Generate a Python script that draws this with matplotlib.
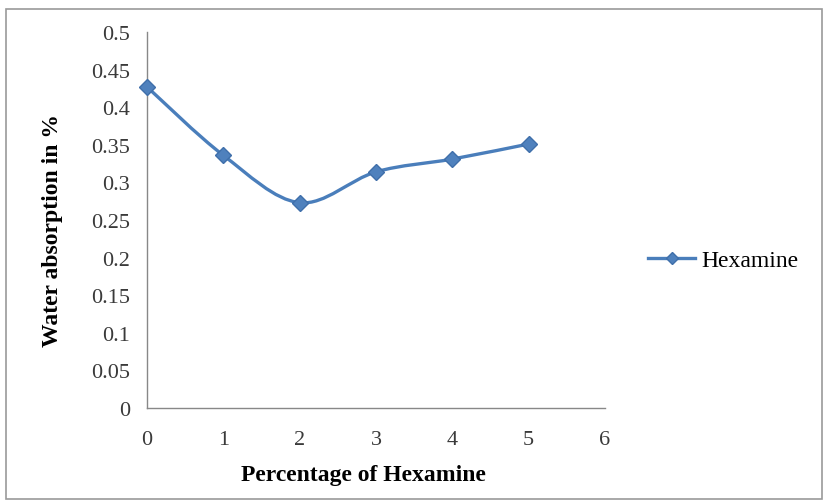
import numpy as np
import matplotlib.pyplot as plt
from matplotlib.path import Path
from matplotlib.patches import PathPatch, Rectangle
from matplotlib.lines import Line2D

# Data
hexamine_pct = [0, 1, 2, 3, 4, 5]
water_absorption = [0.427, 0.336, 0.273, 0.314, 0.331, 0.351]
y_ticks = [0, 0.05, 0.1, 0.15, 0.2, 0.25, 0.3, 0.35, 0.4, 0.45, 0.5]
y_tick_labels = ["0", "0.05", "0.1", "0.15", "0.2", "0.25", "0.3", "0.35", "0.4", "0.45", "0.5"]
x_ticks = [0, 1, 2, 3, 4, 5, 6]

plt.rcParams["font.family"] = ["Liberation Serif", "DejaVu Serif"]

blue = "#4A7EBB"
axis_grey = "#888888"


# Excel-like smoothed line: cubic Bezier segments through the data points
def smooth_path(x, y, t=1 / 6):
    x = np.asarray(x, float)
    y = np.asarray(y, float)
    n = len(x)
    verts = [(x[0], y[0])]
    codes = [Path.MOVETO]
    for i in range(n - 1):
        p0 = i - 1 if i > 0 else i
        p3 = i + 2 if i + 2 < n else i + 1
        c1 = (x[i] + (x[i + 1] - x[p0]) * t, y[i] + (y[i + 1] - y[p0]) * t)
        c2 = (x[i + 1] - (x[p3] - x[i]) * t, y[i + 1] - (y[p3] - y[i]) * t)
        verts += [c1, c2, (x[i + 1], y[i + 1])]
        codes += [Path.CURVE4] * 3
    return Path(verts, codes)


fig = plt.figure(figsize=(8.29, 5.02), dpi=100)
fig.patches.append(Rectangle((0.007, 0.004), 0.985, 0.976, transform=fig.transFigure,
                             fill=False, edgecolor="#9A9A9A", lw=1.2))

ax = fig.add_axes([0.1773, 0.1853, 0.5525, 0.749])
ax.add_patch(PathPatch(smooth_path(hexamine_pct, water_absorption), fill=False,
                       edgecolor=blue, lw=2.4, capstyle="round", zorder=3))
ax.plot(hexamine_pct, water_absorption, linestyle="none", marker="D", ms=8,
        color="#4F81BD", markeredgecolor="#3F6FAA", zorder=4, clip_on=False)

ax.set_xlim(0, 6)
ax.set_ylim(0, 0.5)
ax.set_xticks(x_ticks)
ax.set_yticks(y_ticks)
ax.set_yticklabels(y_tick_labels)
ax.tick_params(length=0, labelsize=16, colors="#3A3A3A", pad=12)
ax.tick_params(axis="x", pad=16)
for s in ["top", "right"]:
    ax.spines[s].set_visible(False)
for s in ["left", "bottom"]:
    ax.spines[s].set_color(axis_grey)
    ax.spines[s].set_linewidth(1.0)

ax.set_xlabel("Percentage of Hexamine", fontsize=17, fontweight="bold")
ax.xaxis.set_label_coords(0.472, -0.148)
ax.set_ylabel("Water absorption in %", fontsize=17, fontweight="bold")
ax.yaxis.set_label_coords(-0.184, 0.475)

handle = Line2D([], [], color=blue, lw=2.4, marker="D", ms=6,
                markerfacecolor="#4F81BD", markeredgecolor="#3F6FAA")
fig.legend([handle], ["Hexamine"], loc="center left", bbox_to_anchor=(0.756, 0.48),
           frameon=False, fontsize=17, handlelength=2.0, handletextpad=0.25)

fig.savefig("out.png", dpi=100)
